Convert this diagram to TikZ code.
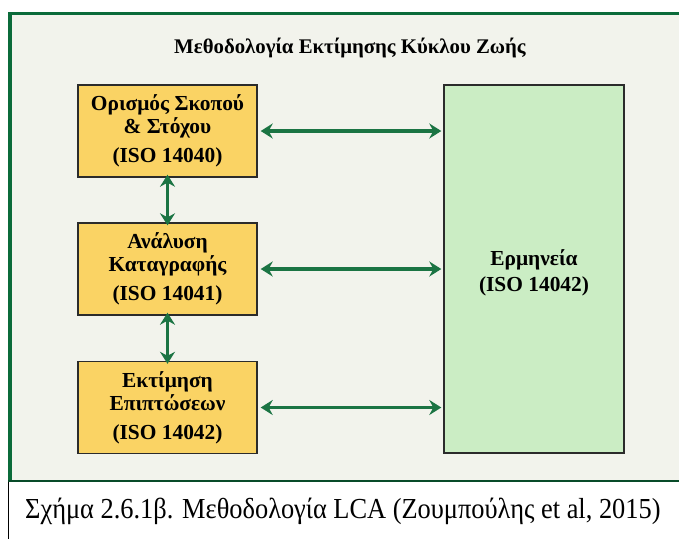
\documentclass[tikz,border=0pt]{standalone}
\usepackage{fontspec}
\setmainfont{Liberation Serif}
\usetikzlibrary{arrows.meta}
\definecolor{framegreen}{HTML}{0B6B3A}
\definecolor{panelbg}{HTML}{F2F3EC}
\definecolor{stagefill}{HTML}{FAD364}
\definecolor{interpfill}{HTML}{CBEDC4}
\definecolor{arrowgreen}{HTML}{1B7443}
\definecolor{edgegray}{HTML}{2B2B2B}
\begin{document}
\begin{tikzpicture}[x=1pt,y=-1pt,
  stagebox/.style={draw=edgegray, line width=1.4pt, fill=stagefill,
    minimum width=179pt, minimum height=92pt, inner sep=0pt, align=center,
    font=\bfseries\fontsize{21.4}{23}\selectfont},
  interpbox/.style={draw=edgegray, line width=1.4pt, fill=interpfill,
    minimum width=180pt, minimum height=368pt, inner sep=0pt},
  boxlabel/.style={align=center, inner sep=0pt,
    font=\bfseries\fontsize{21.4}{26}\selectfont},
  conn/.style={arrowgreen, line width=3.5pt,
    {Stealth[length=12pt,width=15pt,inset=4pt]}-{Stealth[length=12pt,width=15pt,inset=4pt]}}]
  \useasboundingbox (0,0) rectangle (679,539);
  \fill[white] (0,0) rectangle (679,539);
  % framed panel
  \fill[panelbg] (9,13) rectangle (679,481);
  \draw[framegreen, line width=3.5pt] (8,13.5) -- (679,13.5);
  \draw[framegreen, line width=3.5pt] (9.75,12) -- (9.75,481);
  \draw[black, line width=0.8pt] (8.5,481) -- (8.5,539);
  \draw[framegreen!70!black, line width=2pt] (8,481) -- (679,481);
  % title
  \node (title) at (350,48) {\bfseries\fontsize{20.8}{23}\selectfont Μεθοδολογία Εκτίμησης Κύκλου Ζωής};
  % stages
  \node[stagebox] (s1) at (167.5,131) {Ορισμός Σκοπού\\ \& Στόχου\\[6pt] (ISO 14040)};
  \node[stagebox] (s2) at (167.5,269) {Ανάλυση\\ Καταγραφής\\[6pt] (ISO 14041)};
  \node[stagebox] (s3) at (167.5,407.5) {Εκτίμηση\\ Επιπτώσεων\\[6pt] (ISO 14042)};
  \node[interpbox] (interp) at (534,269) {};
  \node[boxlabel] (interplabel) at (534,273) {Ερμηνεία\\ (ISO 14042)};
  % connectors
  \draw[conn] ([xshift=3pt]s1.east) -- ([xshift=-2pt]s1.east -| interp.west);
  \draw[conn] ([xshift=3pt]s2.east) -- ([xshift=-2pt]s2.east -| interp.west);
  \draw[conn] ([xshift=3pt]s3.east) -- ([xshift=-2pt]s3.east -| interp.west);
  \draw[conn] ([yshift=3pt]s1.south) -- ([yshift=-3pt]s2.north);
  \draw[conn] ([yshift=3pt]s2.south) -- ([yshift=-3pt]s3.north);
  % caption
  \node[anchor=west, inner sep=0pt] (cap) at (25,511)
    {\scalebox{0.91}[1]{\fontsize{29}{32}\selectfont Σχήμα 2.6.1β. Μεθοδολογία LCA (Ζουμπούλης et al, 2015)}};
\end{tikzpicture}
\end{document}
